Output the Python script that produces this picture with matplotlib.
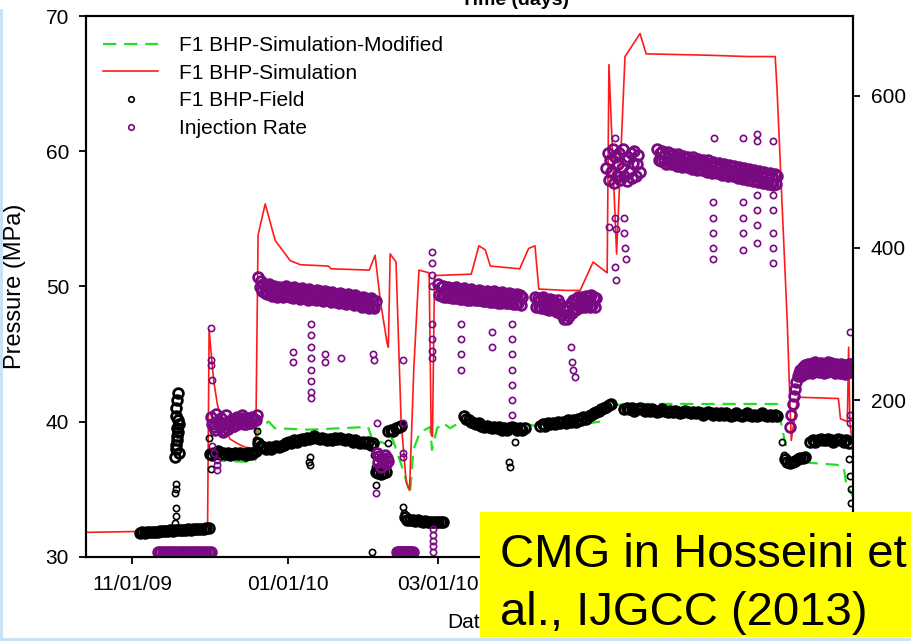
import numpy as np
import matplotlib
matplotlib.use('Agg')
import matplotlib.pyplot as plt
import matplotlib.dates as mdates
from matplotlib.lines import Line2D
from matplotlib.patches import Rectangle

plt.rcParams['font.family'] = ['Liberation Sans', 'DejaVu Sans']

# all times are days counted from 11/01/09
start = mdates.datestr2num('2009-11-01')

# F1 BHP-Simulation (MPa)
sim_days = [-18.2, 28.5, 29.6, 30.2, 30.8, 32.0, 33.5, 35.3, 38.4, 42.0, 44.3, 47.8, 48.5,
            49.4, 52.2, 56.1, 62.0, 66.0, 77.0, 78.0, 93.0, 95.3, 97.3, 100.0, 100.5,
            101.2, 103.5, 105.5, 107.5, 108.8, 110.5, 112.5, 116.5, 117.3, 117.8, 118.6,
            133.0, 136.0, 138.5, 140.5, 152.0, 155.5, 158.0, 159.5, 170.0, 175.7, 180.8,
            186.3, 187.0, 190.0, 193.3, 199.2, 201.6, 225.5, 241.6, 252.2, 252.9, 256.9,
            258.5, 261.0, 277.0, 277.8, 280.5, 281.0, 281.5, 282.6]
sim_mpa = [31.8, 31.95, 32.3, 46.8, 45.5, 43.0, 41.2, 40.1, 38.7, 38.3, 38.1, 38.0, 38.6,
           53.8, 56.1, 53.4, 51.9, 51.6, 51.5, 51.3, 51.2, 52.3, 49.0, 45.8, 45.5,
           52.4, 51.8, 40.0, 35.5, 34.9, 44.0, 51.2, 51.0, 39.0, 38.9, 50.8,
           50.9, 53.0, 52.7, 51.5, 51.3, 52.8, 53.0, 49.8, 49.7, 49.7, 51.8,
           51.0, 66.4, 52.4, 67.0, 68.7, 67.2, 67.1, 67.0, 67.0, 64.7, 47.5,
           38.6, 41.8, 41.7, 40.2, 40.0, 45.5, 40.0, 38.0]

# F1 BHP-Simulation-Modified (MPa)
mod_days = [33.0, 35.0, 47.5, 48.5, 49.4, 53.5, 56.0, 70.0, 92.5, 95.3, 97.5, 100.0, 102.0,
            106.3, 109.0, 110.3, 112.9, 116.9, 117.6, 119.6, 122.0, 124.7, 129.8, 135.0, 140.0,
            145.0, 150.0, 155.0, 160.0, 165.0, 170.0, 175.0, 180.0, 184.0, 186.0, 200.0, 230.0,
            253.0, 256.0, 258.0, 262.0, 276.0, 279.0, 280.0, 282.6]
mod_mpa = [37.6, 37.1, 37.0, 37.2, 39.4, 40.0, 39.5, 39.4, 39.6, 38.1, 38.5, 38.3, 38.8,
           36.4, 34.7, 37.9, 39.2, 39.6, 37.9, 39.5, 39.9, 39.5, 40.1, 40.0, 39.7,
           39.9, 39.6, 39.8, 39.6, 39.8, 39.7, 39.8, 39.9, 40.0, 41.2, 41.3, 41.3,
           41.3, 38.5, 37.2, 37.0, 36.8, 36.7, 35.5, 34.5]

# F1 BHP-Field (MPa): dense bands, one segment per line
field_days = (list(range(3, 31)) +
              [d + 0.5 for d in range(30, 49)] +
              [d + 0.5 for d in range(49, 95)] +
              [95.5, 96.5, 97.5, 98.5, 99.5] +
              [100.5, 101.5, 102.5, 103.5, 104.5, 105.5] +
              list(range(107, 123)) +
              list(range(130, 155)) +
              list(range(160, 189)) +
              list(range(193, 254)) +
              list(range(256, 265)) +
              list(range(266, 282)) +
              [17, 17.3, 17.6, 17.9, 18.2, 17.1, 17.4, 17.7, 18.0, 18.3, 17.2, 17.5, 17.8, 18.1])
field_mpa = ([31.75, 31.8, 31.78, 31.82, 31.8, 31.85, 31.83, 31.86, 31.88, 31.9, 31.87, 31.92, 31.95, 31.93,
              31.96, 31.98, 32.0, 31.97, 32.0, 32.02, 32.0, 32.04, 32.05, 32.03, 32.06, 32.08, 32.1, 32.1] +
             [37.6, 37.5, 37.7, 37.8, 37.6, 37.7, 37.6, 37.7, 37.5, 37.6, 37.7, 37.6, 37.7, 37.6, 37.5,
              37.7, 37.6, 37.7, 37.8] +
             [38.4, 38.2, 38.1, 38.0, 38.1, 38.0, 38.1, 38.2, 38.1, 38.2, 38.3, 38.4, 38.5, 38.4, 38.6,
              38.5, 38.6, 38.7, 38.6, 38.8, 38.7, 38.8, 38.9, 38.8, 38.7, 38.8, 38.7, 38.6, 38.7, 38.6,
              38.8, 38.7, 38.8, 38.7, 38.6, 38.7, 38.6, 38.5, 38.6, 38.5, 38.4, 38.5, 38.4, 38.5, 38.3, 38.4] +
             [36.3, 36.2, 36.1, 36.2, 36.3] +
             [39.3, 39.4, 39.3, 39.5, 39.6, 39.7] +
             [32.9, 32.75, 32.7, 32.7, 32.65, 32.7, 32.65, 32.6, 32.65, 32.6, 32.6, 32.55, 32.6, 32.6,
              32.55, 32.6] +
             [40.4, 40.2, 40.1, 40.0, 39.9, 39.8, 39.9, 39.7, 39.6, 39.7, 39.6, 39.5, 39.6, 39.5, 39.6,
              39.4, 39.5, 39.4, 39.5, 39.6, 39.5, 39.4, 39.5, 39.4, 39.5] +
             [39.7, 39.8, 39.7, 39.9, 39.8, 39.9, 39.8, 40.0, 39.9, 40.0, 39.9, 40.1, 40.0, 40.1, 40.0,
              40.2, 40.1, 40.3, 40.2, 40.4, 40.5, 40.6, 40.7, 40.8, 40.9, 41.0, 41.1, 41.2, 41.3] +
             [40.9, 41.0, 40.9, 41.0, 40.8, 40.9, 41.0, 40.9, 40.8, 40.9, 40.8, 40.9, 40.8, 40.7, 40.8,
              40.9, 40.8, 40.7, 40.8, 40.7, 40.8, 40.7, 40.6, 40.7, 40.8, 40.7, 40.6, 40.7, 40.6, 40.7,
              40.6, 40.5, 40.6, 40.7, 40.6, 40.5, 40.6, 40.5, 40.6, 40.5, 40.6, 40.5, 40.4, 40.5, 40.6,
              40.5, 40.4, 40.5, 40.6, 40.5, 40.4, 40.5, 40.4, 40.5, 40.6, 40.5, 40.4, 40.5, 40.4, 40.5, 40.4] +
             [37.2, 37.0, 36.9, 37.0, 37.1, 37.2, 37.3, 37.3, 37.4] +
             [38.5, 38.6, 38.5, 38.6, 38.7, 38.6, 38.6, 38.7, 38.6, 38.5, 38.6, 38.7, 38.6, 38.5, 38.6, 38.4] +
             [37.4, 38.0, 38.6, 39.2, 39.8, 40.4, 41.0, 41.6, 42.1, 37.7, 38.3, 38.9, 39.5, 40.1])
# F1 BHP-Field (MPa): scattered single readings
field_x_days = [17.0, 17.1, 17.2, 17.0, 17.3, 17.1, 30.2, 30.5, 31.0, 31.5, 48.6, 48.8,
                69.5, 69.8, 69.6, 95.0, 95.3, 95.6, 100.3, 106.3, 106.6, 94.0, 148.0, 148.3, 150.0,
                255.0, 255.5, 281.3, 281.6, 281.8, 282.0, 282.2]
field_x_mpa = [32.5, 33.0, 33.6, 34.7, 35.0, 35.4, 38.8, 37.5, 36.5, 37.8, 38.6, 39.3,
               37.0, 36.8, 37.4, 37.5, 36.6, 35.3, 38.4, 33.7, 33.2, 30.35, 37.0, 36.6, 38.5,
               38.5, 37.5, 37.2, 36.0, 35.0, 34.0, 33.0]

# Injection Rate (right axis): dense bands, upper and lower edge of each band
rate_days = (list(range(10, 32)) +
             list(range(31, 50)) + [d + 0.5 for d in range(31, 49)] +
             [d + 0.5 for d in range(49, 96)] + list(range(50, 96)) +
             [96, 96.5, 97, 97.5, 98, 98.5, 99, 99.5, 100, 100.5] +
             [104, 104.5, 105, 105.5, 106, 106.5, 107, 107.5, 108, 108.5, 109, 109.5, 110] +
             list(range(120, 154)) + [d + 0.5 for d in range(120, 153)] +
             list(range(158, 183)) + [d + 0.5 for d in range(158, 182)] +
             [186 + 0.5 * i for i in range(27)] +
             list(range(206, 254)) + [d + 0.5 for d in range(206, 253)] +
             list(range(258, 283)) + [d + 0.5 for d in range(258, 282)])
rate_val = ([0] * 22 +
            [178, 165, 182, 168, 176, 160, 180, 170, 175, 166, 178, 172, 180, 168, 176, 170, 178, 174, 180] +
            [168, 160, 172, 164, 158, 170, 162, 172, 166, 174, 168, 172, 176, 168, 174, 170, 176, 174] +
            [362, 356, 352, 350, 352, 348, 350, 347, 349, 346, 348, 350, 347, 345, 348, 346, 344, 347,
             345, 343, 346, 344, 342, 345, 343, 341, 344, 342, 340, 342, 340, 338, 341, 339, 337, 340,
             338, 336, 338, 336, 334, 336, 334, 332, 334, 332, 330] +
            [348, 344, 341, 339, 340, 337, 338, 336, 337, 335, 337, 338, 336, 334, 336, 335, 333, 335,
             334, 332, 334, 333, 331, 333, 332, 330, 332, 331, 329, 331, 329, 327, 329, 328, 326, 328,
             327, 325, 327, 325, 323, 325, 323, 321, 323, 321] +
            [130, 118, 126, 112, 124, 118, 128, 116, 124, 120] +
            [0] * 13 +
            [352, 348, 350, 346, 349, 347, 345, 348, 346, 344, 347, 345, 343, 346, 344, 342, 345, 343,
             341, 344, 342, 340, 343, 341, 339, 342, 340, 338, 341, 339, 337, 340, 338, 336] +
            [338, 337, 336, 335, 336, 334, 334, 335, 333, 333, 334, 332, 332, 333, 331, 331, 332, 330,
             330, 331, 329, 329, 330, 328, 328, 329, 327, 327, 328, 326, 326, 327, 325] +
            [336, 334, 332, 335, 333, 330, 333, 331, 328, 331, 326, 320, 318, 324, 328, 331, 333, 335,
             336, 334, 337, 335, 338, 336, 334] +
            [323, 322, 321, 322, 320, 318, 320, 319, 316, 318, 312, 306, 306, 311, 315, 318, 320, 322,
             323, 322, 324, 323, 325, 323] +
            [505, 525, 490, 515, 500, 530, 485, 520, 495, 510, 525, 490, 505, 530, 495, 515, 488, 520,
             500, 525, 492, 512, 528, 495, 510, 522, 500] +
            [530, 525, 527, 523, 526, 522, 524, 520, 523, 519, 521, 518, 520, 516, 519, 515, 517, 514,
             516, 512, 515, 511, 513, 510, 512, 508, 511, 507, 509, 506, 508, 504, 507, 503, 505, 502,
             504, 500, 503, 499, 501, 498, 500, 496, 499, 495, 497, 494] +
            [516, 514, 514, 511, 513, 510, 511, 508, 510, 507, 508, 506, 507, 504, 506, 503, 504, 502,
             503, 500, 502, 499, 500, 498, 499, 496, 498, 495, 496, 494, 495, 492, 494, 491, 492, 490,
             491, 488, 490, 487, 488, 486, 487, 484, 486, 483, 484] +
            [165, 195, 215, 232, 240, 244, 246, 248, 247, 249, 250, 248, 249, 247, 248, 250, 249, 247,
             248, 246, 247, 245, 246, 248, 247] +
            [180, 205, 224, 236, 232, 234, 236, 237, 236, 238, 239, 237, 238, 236, 237, 239, 238, 236,
             237, 235, 236, 234, 235, 237])
# Injection Rate: scattered single readings
rate_x_days = [30.8, 30.9, 31.0, 31.2, 31.5, 32.0, 33.3, 33.4, 33.3,
               63, 63.2, 70, 70, 70, 70, 70, 70, 70, 70, 75.5, 75.6, 82, 94.6, 94.7,
               95.8, 96.2, 106.3, 106.3, 106.3, 106.4,
               118, 118, 118, 118, 118,
               117.5, 117.5, 117.5, 117.5, 117.5, 117.5, 117.5, 117.5,
               128.8, 128.8, 128.8, 128.8, 141, 141, 149, 149, 149, 149, 149, 149, 149,
               172, 172.5, 173, 173.5,
               187, 189.5, 189.4, 189.6, 189.5, 189.8, 193, 193, 193.2, 193.5,
               228, 228, 228, 228, 228, 228.2, 239.6, 239.6, 239.6, 239.6, 239.6,
               245, 245, 245, 245, 245, 245, 251.4, 251.4, 251.4, 251.4, 251.4, 251.4,
               281.6, 281.6, 281.6]
rate_x_val = [295, 253, 246, 226, 140, 130, 121, 114, 108,
              263, 250, 300, 285, 270, 255, 240, 225, 210, 203, 260, 250, 255, 260, 252,
              78, 170, 253, 170, 130, 125,
              0, 8, 15, 22, 30,
              395, 380, 365, 350, 300, 280, 265, 255,
              300, 280, 260, 240, 290, 270, 300, 280, 260, 240, 220, 200, 180,
              270, 250, 240, 230,
              428, 545, 440, 425, 375, 358, 440, 420, 400, 385,
              460, 440, 420, 400, 385, 545, 545, 460, 440, 420, 397,
              550, 540, 470, 450, 430, 406, 540, 470, 450, 420, 400, 380,
              290, 180, 170]

xticks = ['2009-11-01', '2010-01-01', '2010-03-01', '2010-05-01', '2010-07-01']

fig = plt.figure(figsize=(9.12, 6.41), dpi=100)
ax = fig.add_axes([85.7 / 912, 1 - 556.7 / 641, 767 / 912, 540.7 / 641])
ax2 = ax.twinx()

green = '#22e022'
red = '#ff1a1a'
purple = '#7a0a82'
band = dict(ls='none', marker='o', ms=7, mfc='none', mew=2.0)
dots = dict(ls='none', marker='o', ms=4.5, mfc='none', mew=1.2)

ax.plot(start + np.array(mod_days), mod_mpa, color=green, lw=1.6, dashes=(6, 3.5), zorder=2)
ax.plot(start + np.array(sim_days), sim_mpa, color=red, lw=1.2, zorder=3)
ax.plot(start + np.array(field_days), field_mpa, mec='black', zorder=4, **band)
ax.plot(start + np.array(field_x_days), field_x_mpa, mec='black', zorder=4, **dots)
ax2.plot(start + np.array(rate_days), rate_val, mec=purple, **band)
ax2.plot(start + np.array(rate_x_days), rate_x_val, mec=purple, **dots)

ax.set_xlim(start - 18.2, start + 282.6)
ax.set_ylim(30, 70)
ax2.set_ylim(-6, 705)
ax.set_yticks([30, 40, 50, 60, 70])
ax2.set_yticks([200, 400, 600])
ax.set_xticks([mdates.datestr2num(d) for d in xticks])
ax.xaxis.set_major_formatter(mdates.DateFormatter('%m/%d/%y'))
# the last two date labels sit under the yellow box
for lbl in ax.get_xticklabels()[3:]:
    lbl.set_visible(False)

for a in (ax, ax2):
    for s in a.spines.values():
        s.set_linewidth(1.5)
ax.tick_params(axis='both', direction='out', length=5, width=1.3, labelsize=15)
ax.tick_params(axis='y', pad=7)
ax.tick_params(axis='x', pad=8)
ax2.tick_params(axis='y', direction='out', length=5, width=1.3, labelsize=15, pad=8)

ax.set_ylabel('Pressure (MPa)', fontsize=17, labelpad=14)
ax.set_xlabel('Date', fontsize=15, labelpad=14)

handles = [Line2D([], [], color=green, lw=1.6, dashes=(6, 3.5)),
           Line2D([], [], color=red, lw=1.2),
           Line2D([], [], ls='none', marker='o', ms=4, mfc='none', mec='black', mew=1.2),
           Line2D([], [], ls='none', marker='o', ms=4, mfc='none', mec=purple, mew=1.2)]
labels = ['F1 BHP-Simulation-Modified', 'F1 BHP-Simulation', 'F1 BHP-Field', 'Injection Rate']
ax2.legend(handles, labels, loc='upper left', bbox_to_anchor=(103 / 912, 1 - 36 / 641),
           bbox_transform=fig.transFigure, frameon=False, fontsize=15, handlelength=2.65,
           handletextpad=1.0, labelspacing=0.42, borderpad=0, borderaxespad=0)

fig.text(515 / 912, 1 - 9 / 641, 'Time (days)', ha='center', va='bottom', fontsize=14,
         fontweight='bold')

# slide frame and the yellow citation box
fig.add_artist(Line2D([1.5 / 912, 1.5 / 912], [1 - 639 / 641, 1 - 10 / 641], color='#c5e0f8', lw=2))
fig.add_artist(Line2D([0, 1], [1 - 639 / 641, 1 - 639 / 641], color='#c5e0f8', lw=2))
fig.add_artist(Rectangle((480 / 912, 1 - 637 / 641), 432 / 912, 125 / 641,
                         facecolor='#ffff00', edgecolor='none', zorder=10))
fig.text(500 / 912, 1 - 567 / 641, 'CMG in Hosseini et', fontsize=34, va='baseline', zorder=11)
fig.text(500 / 912, 1 - 625 / 641, 'al., IJGCC (2013)', fontsize=34, va='baseline', zorder=11)

fig.savefig('out.png', dpi=100)
